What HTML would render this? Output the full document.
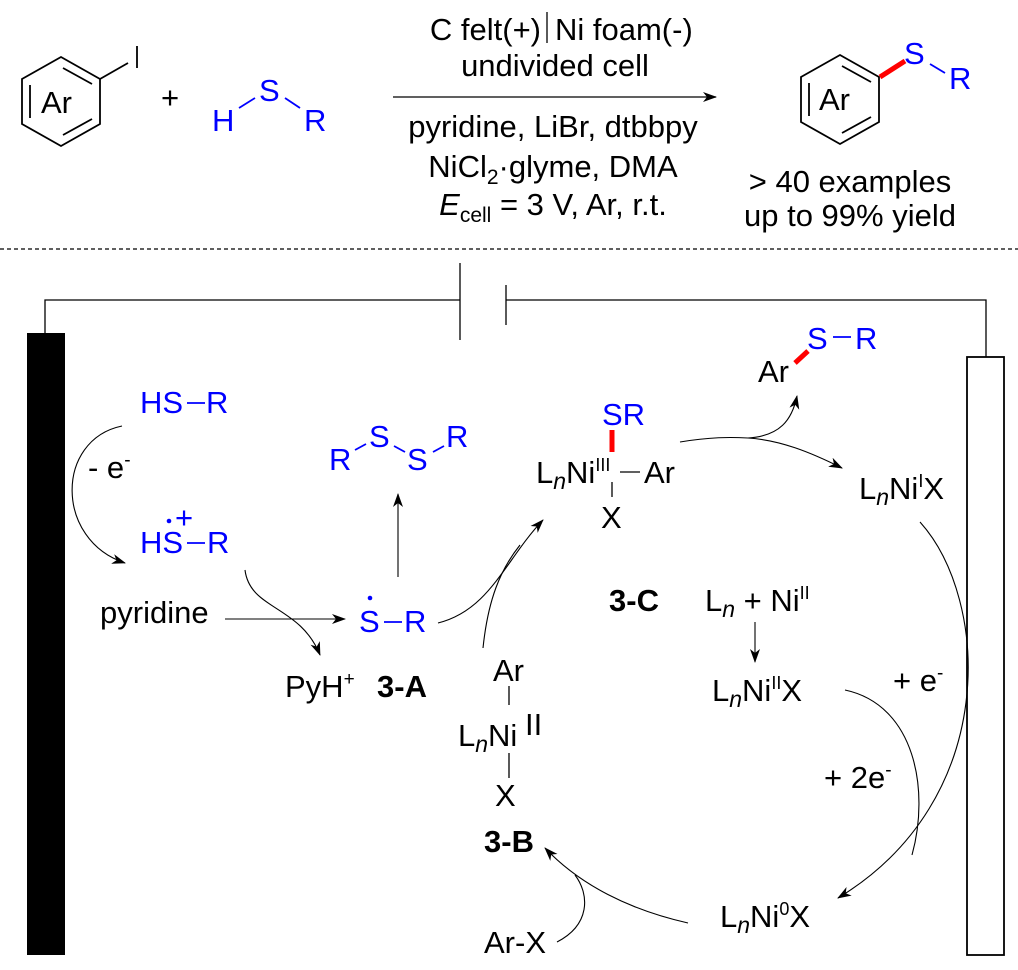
<!DOCTYPE html>
<html><head><meta charset="utf-8"><style>
html,body{margin:0;padding:0;background:#fff}
svg{display:block}
text{font-family:"Liberation Sans",sans-serif;font-size:31px;fill:#000}
.b{fill:#0000ff}
.bold{font-weight:bold}
</style></head><body>
<svg width="1018" height="970" viewBox="0 0 1018 970" xmlns="http://www.w3.org/2000/svg">
<defs>
<marker id="ah" markerWidth="14" markerHeight="10" refX="13" refY="5" orient="auto" markerUnits="userSpaceOnUse">
<path d="M0,0 L14,5 L0,10 L4,5 Z" fill="#000"/></marker>
</defs>
<g stroke="#000" stroke-width="1.8" fill="none">
<polygon points="61,57 100,79 100,124 61,146 22,124 22,79"/>
<line x1="63" y1="68" x2="92" y2="84"/>
<line x1="92" y1="119" x2="63" y2="135"/>
<line x1="30" y1="85" x2="30" y2="118"/>
<line x1="100" y1="79" x2="128" y2="63"/>
<line x1="137" y1="46" x2="137" y2="68"/>
<polygon points="840,55 879,77 879,122 840,144 801,122 801,77"/>
<line x1="842" y1="66" x2="871" y2="82"/>
<line x1="871" y1="117" x2="842" y2="133"/>
<line x1="809" y1="83" x2="809" y2="116"/>
<line x1="393" y1="97" x2="716" y2="97" marker-end="url(#ah)" stroke-width="1.3"/>
<line x1="547" y1="12" x2="547" y2="43" stroke-width="1.3"/>
</g>
<g stroke="#0000ff" stroke-width="1.8">
<line x1="239" y1="108" x2="255" y2="98"/>
<line x1="285" y1="98" x2="300" y2="108"/>
<line x1="930" y1="64" x2="945" y2="73"/>
</g>
<line x1="880" y1="77" x2="905" y2="61" stroke="#ff0000" stroke-width="5"/>
<text x="41" y="113">Ar</text>
<text x="161" y="108">+</text>
<text x="212" y="131" class="b">H</text>
<text x="259" y="101" class="b">S</text>
<text x="304" y="131" class="b">R</text>
<text x="819" y="110">Ar</text>
<text x="904" y="64" class="b">S</text>
<text x="949" y="89" class="b">R</text>
<text x="541" y="40" text-anchor="end">C felt(+)</text>
<text x="555" y="40">Ni foam(-)</text>
<text x="555" y="76" text-anchor="middle">undivided cell</text>
<text x="553" y="137" text-anchor="middle">pyridine, LiBr, dtbbpy</text>
<text x="553" y="177" text-anchor="middle">NiCl<tspan font-size="21" dy="7">2</tspan><tspan dy="-7">·glyme, DMA</tspan></text>
<text x="553" y="215" text-anchor="middle"><tspan font-style="italic">E</tspan><tspan font-size="21" dy="7">cell</tspan><tspan dy="-7"> = 3 V, Ar, r.t.</tspan></text>
<text x="850" y="192" text-anchor="middle">&gt; 40 examples</text>
<text x="850" y="226" text-anchor="middle">up to 99% yield</text>
<line x1="0" y1="249" x2="1018" y2="249" stroke="#000" stroke-width="1.2" stroke-dasharray="4,3"/>
<g stroke="#000" stroke-width="1.3" fill="none">
<line x1="460" y1="263" x2="460" y2="340"/>
<line x1="506" y1="285" x2="506" y2="325"/>
<polyline points="460,300 45,300 45,333"/>
<polyline points="506,300 986,300 986,357"/>
<rect x="967" y="357" width="37" height="598" stroke-width="1.8"/>
</g>
<rect x="27" y="333" width="38" height="622" fill="#000"/>
<text x="140" y="413" class="b">HS</text>
<line x1="187" y1="403" x2="205" y2="403" stroke="#0000ff" stroke-width="1.8"/>
<text x="206" y="413" class="b">R</text>
<text x="88" y="478">- e<tspan font-size="19" dy="-12">-</tspan></text>
<text x="140" y="553" class="b">HS</text>
<circle cx="169" cy="521" r="2.3" fill="#0000ff"/>
<text x="175" y="528" class="b" font-size="21">+</text>
<line x1="187" y1="543" x2="205" y2="543" stroke="#0000ff" stroke-width="1.8"/>
<text x="207" y="553" class="b">R</text>
<text x="100" y="623">pyridine</text>
<text x="285" y="697">PyH<tspan font-size="19" dy="-12">+</tspan></text>
<text x="377" y="697" class="bold">3-A</text>
<text x="359" y="632" class="b">S</text>
<circle cx="370" cy="598" r="2.3" fill="#0000ff"/>
<line x1="384" y1="622" x2="402" y2="622" stroke="#0000ff" stroke-width="1.8"/>
<text x="404" y="632" class="b">R</text>
<text x="329" y="470" class="b">R</text>
<text x="369" y="447" class="b">S</text>
<text x="407" y="470" class="b">S</text>
<text x="446" y="447" class="b">R</text>
<g stroke="#0000ff" stroke-width="1.8"><line x1="355" y1="450" x2="366" y2="444"/><line x1="394" y1="446" x2="405" y2="452"/><line x1="433" y1="452" x2="444" y2="446"/></g>
<text x="602" y="425" class="b">SR</text>
<line x1="612" y1="430" x2="612" y2="452" stroke="#ff0000" stroke-width="5"/>
<text x="536" y="483">L<tspan font-style="italic" font-size="23" dy="6">n</tspan><tspan dy="-6">Ni</tspan><tspan font-size="18" dy="-12">III</tspan></text>
<g stroke="#000" stroke-width="1.3"><line x1="620" y1="472" x2="640" y2="472"/><line x1="612" y1="482" x2="612" y2="497"/></g>
<text x="644" y="483">Ar</text>
<text x="601" y="528">X</text>
<text x="758" y="382">Ar</text>
<line x1="795" y1="363" x2="808" y2="351" stroke="#ff0000" stroke-width="5"/>
<text x="807" y="349" class="b">S</text>
<line x1="833" y1="337" x2="851" y2="337" stroke="#0000ff" stroke-width="1.8"/>
<text x="855" y="349" class="b">R</text>
<text x="859" y="499">L<tspan font-style="italic" font-size="23" dy="6">n</tspan><tspan dy="-6">Ni</tspan><tspan font-size="18" dy="-12">I</tspan><tspan dy="12">X</tspan></text>
<text x="609" y="611" class="bold">3-C</text>
<text x="705" y="611">L<tspan font-style="italic" font-size="23" dy="6">n</tspan><tspan dy="-6"> + Ni</tspan><tspan font-size="18" dy="-12">II</tspan></text>
<text x="712" y="701">L<tspan font-style="italic" font-size="23" dy="6">n</tspan><tspan dy="-6">Ni</tspan><tspan font-size="18" dy="-12">II</tspan><tspan dy="12">X</tspan></text>
<text x="893" y="691">+ e<tspan font-size="19" dy="-12">-</tspan></text>
<text x="824" y="788">+ 2e<tspan font-size="19" dy="-12">-</tspan></text>
<text x="720" y="927">L<tspan font-style="italic" font-size="23" dy="6">n</tspan><tspan dy="-6">Ni</tspan><tspan font-size="18" dy="-12">0</tspan><tspan dy="12">X</tspan></text>
<text x="484" y="953">Ar-X</text>
<text x="484" y="852" class="bold">3-B</text>
<text x="493" y="681">Ar</text>
<line x1="509" y1="686" x2="509" y2="705" stroke="#000" stroke-width="1.3"/>
<text x="458" y="746">L<tspan font-style="italic" font-size="23" dy="6">n</tspan><tspan dy="-6">Ni</tspan></text>
<text x="525" y="735" font-family="Liberation Serif" font-size="22">II</text>
<line x1="509" y1="753" x2="509" y2="778" stroke="#000" stroke-width="1.3"/>
<text x="495" y="806">X</text>
<g stroke="#000" stroke-width="1.1" fill="none">
<path d="M122,426 C55,440 55,540 125,563" marker-end="url(#ah)"/>
<path d="M245,570 C250,610 300,605 320,655" marker-end="url(#ah)"/>
<line x1="225" y1="619" x2="345" y2="619" marker-end="url(#ah)"/>
<line x1="398" y1="577" x2="398" y2="494" marker-end="url(#ah)"/>
<path d="M438,623 C490,610 505,560 543,520" marker-end="url(#ah)"/>
<path d="M483,648 C488,600 500,570 520,545"/>
<path d="M680,442 C710,437 730,437 748,438 C780,436 792,420 797,396" marker-end="url(#ah)"/>
<path d="M748,438 C780,440 810,452 842,468" marker-end="url(#ah)"/>
<path d="M755,622 L755,662" marker-end="url(#ah)"/>
<path d="M920,522 C990,600 1000,800 838,898" marker-end="url(#ah)"/>
<path d="M845,690 C915,705 930,790 912,855"/>
<path d="M688,923 C630,910 580,885 545,848" marker-end="url(#ah)"/>
<path d="M557,942 C590,925 590,895 575,875"/>
</g>
</svg>
</body></html>
